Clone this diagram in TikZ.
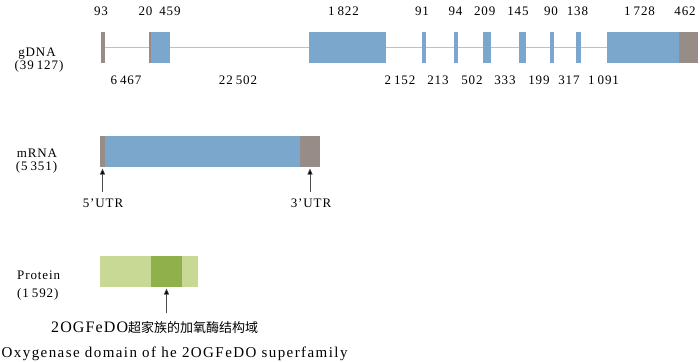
\documentclass[tikz,border=0pt]{standalone}
\usepackage{fontspec}
\setmainfont[LetterSpace=7]{Liberation Serif}
\newfontfamily\cjk{Noto Sans CJK SC}
\usetikzlibrary{arrows.meta}
\definecolor{exonblue}{HTML}{7BA7CC}
\definecolor{utrgrey}{HTML}{978C87}
\definecolor{intron}{HTML}{C9BDBB}
\definecolor{lightgreen}{HTML}{C8D996}
\definecolor{darkgreen}{HTML}{8FB04A}
\newcommand{\gp}{\hspace*{3pt}}
\tikzset{
  bar/.style={draw=none,inner sep=0pt,outer sep=0pt,anchor=north west,minimum height=31pt},
  lbl/.style={inner sep=0pt,anchor=base,font=\fontsize{13}{15}\selectfont},
  side/.style={inner sep=0pt,anchor=base,font=\fontsize{13}{15}\selectfont},
  intr/.style={draw=intron,line width=1pt},
  arr/.style={draw=black!70,line width=0.6pt,-{Triangle[length=6pt,width=5pt,fill=black]},shorten >=1.5pt}
}
\begin{document}
\begin{tikzpicture}[x=1pt,y=-1pt]
\useasboundingbox (0,0) rectangle (700,361);
% ---- gDNA ----
\node[bar,fill=utrgrey,minimum width=3.7pt] (g0) at (101,32) {};
\node[bar,fill=utrgrey,minimum width=2pt] (g1) at (149.3,32) {};
\node[bar,fill=exonblue,minimum width=19pt] (e1) at (151.3,32) {};
\node[bar,fill=exonblue,minimum width=77pt] (e2) at (309,32) {};
\node[bar,fill=exonblue,minimum width=4pt] (e3) at (421.7,32) {};
\node[bar,fill=exonblue,minimum width=3.4pt] (e4) at (454.3,32) {};
\node[bar,fill=exonblue,minimum width=7.7pt] (e5) at (483.3,32) {};
\node[bar,fill=exonblue,minimum width=6.4pt] (e6) at (519.3,32) {};
\node[bar,fill=exonblue,minimum width=3.7pt] (e7) at (550,32) {};
\node[bar,fill=exonblue,minimum width=5.3pt] (e8) at (575.7,32) {};
\node[bar,fill=exonblue,minimum width=72.3pt] (e9) at (606.7,32) {};
\node[bar,fill=utrgrey,minimum width=18.5pt] (g2) at (679,32) {};
\draw[intr] (g0.east) -- (g1.west);
\draw[intr] (e1.east) -- (e2.west);
\draw[intr] (e2.east) -- (e3.west);
\draw[intr] (e3.east) -- (e4.west);
\draw[intr] (e4.east) -- (e5.west);
\draw[intr] (e5.east) -- (e6.west);
\draw[intr] (e6.east) -- (e7.west);
\draw[intr] (e7.east) -- (e8.west);
\draw[intr] (e8.east) -- (e9.west);
% top numbers
\node[lbl] (n1) at (101,15.7) {93};
\node[lbl] (n2) at (145.5,15.7) {20};
\node[lbl] (n3) at (170,15.7) {459};
\node[lbl] (n4) at (343.5,15.7) {1\gp 822};
\node[lbl] (n5) at (422,15.7) {91};
\node[lbl] (n6) at (455.5,15.7) {94};
\node[lbl] (n7) at (484.7,15.7) {209};
\node[lbl] (n8) at (518,15.7) {145};
\node[lbl] (n9) at (551,15.7) {90};
\node[lbl] (n10) at (577.5,15.7) {138};
\node[lbl] (n11) at (639.5,15.7) {1\gp 728};
\node[lbl] (n12) at (685,15.7) {462};
% bottom numbers
\node[lbl] (i1) at (126,84) {6\gp 467};
\node[lbl] (i2) at (238,84) {22\gp 502};
\node[lbl] (i3) at (400,84) {2\gp 152};
\node[lbl] (i4) at (438,84) {213};
\node[lbl] (i5) at (472,84) {502};
\node[lbl] (i6) at (505,84) {333};
\node[lbl] (i7) at (539,84) {199};
\node[lbl] (i8) at (569,84) {317};
\node[lbl] (i9) at (603.5,84) {1\gp 091};
\node[side] (gl1) at (37,56.7) {gDNA};
\node[side] (gl2) at (39,69) {(39\gp 127)};
% ---- mRNA ----
\node[bar,fill=utrgrey,minimum width=5pt] (m0) at (100,136) {};
\node[bar,fill=exonblue,minimum width=195pt] (m1) at (105,136) {};
\node[bar,fill=utrgrey,minimum width=20pt] (m2) at (300,136) {};
\node[side] (ml1) at (37,157.7) {mRNA};
\node[side] (ml2) at (36.5,170.7) {(5\gp 351)};
\node[lbl] (u5) at (103,207.3) {5'UTR};
\node[lbl] (u3) at (311,207.3) {3'UTR};
\coordinate (t5) at (102.5,192);
\coordinate (t3) at (310,192);
\draw[arr] (t5) -- (m0.south);
\draw[arr] (t3) -- (m2.south);
% ---- Protein ----
\node[bar,fill=lightgreen,minimum width=51pt] (p0) at (100,256) {};
\node[bar,fill=darkgreen,minimum width=31pt] (p1) at (151,256) {};
\node[bar,fill=lightgreen,minimum width=16pt] (p2) at (182,256) {};
\node[side,anchor=base west] (pl1) at (17,279.3) {Protein};
\node[side,anchor=base west] (pl2) at (17,297.3) {(1\gp 592)};
\coordinate (tp) at (166.5,313);
\draw[arr] (tp) -- (p1.south);
\node[inner sep=0pt,anchor=base west] (cn) at (51,332)
  {{\fontsize{16}{18}\selectfont 2OGFeDO}{\cjk\fontsize{13}{15}\selectfont 超家族的加氧酶结构域}};
\node[inner sep=0pt,anchor=base west,font=\fontsize{15}{17}\selectfont\addfontfeature{LetterSpace=9.5}] (en) at (1.5,357.7)
  {Oxygenase domain of he 2OGFeDO superfamily};
\end{tikzpicture}
\end{document}
